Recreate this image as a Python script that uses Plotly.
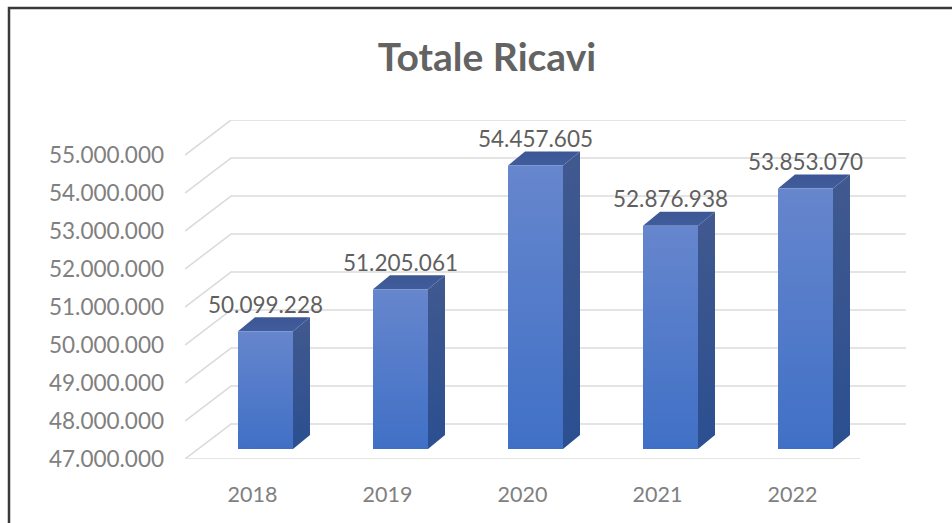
import plotly.graph_objects as go

# --- data ---
YEARS = ["2018", "2019", "2020", "2021", "2022"]
TOTALE_RICAVI = [50099228, 51205061, 54457605, 52876938, 53853070]
Y_TICKS = [47000000, 48000000, 49000000, 50000000, 51000000, 52000000, 53000000, 54000000, 55000000]
TITLE = "Totale Ricavi"

# --- canvas geometry (px) ---
W, H = 952, 523
LEFT, RIGHT_EDGE, TOP, BOTTOM = 185, 907, 120, 459
CAT_PX = 135.0          # width of one category on the front plane
PX_PER_UNIT = 38.0 / 1e6
DEPTH_X, DEPTH_Y = 46, 35     # px, oblique offset of the back wall
BAR_FRONT, BAR_BACK = (13, 10), (30, 24)   # px, oblique offset of bar faces
BAR_HALF = 27.5

X0 = -0.5
X1 = X0 + (RIGHT_EDGE - LEFT) / CAT_PX
Y0 = Y_TICKS[0]
Y1 = Y0 + (BOTTOM - TOP) / PX_PER_UNIT

ox = lambda px: px / CAT_PX            # px -> x units
oy = lambda px: px / PX_PER_UNIT       # px -> y units

GRID = "#dcdcdc"
AXIS_TEXT = "#808080"
LABEL_TEXT = "#5f5f5f"
FONT = "Lato, Carlito, sans-serif"

fig = go.Figure()

# --- walls ---
gx, gy = [], []
n = len(YEARS)
for t in Y_TICKS:
    gx += [X0, X0 + ox(DEPTH_X), X0 + ox(DEPTH_X) + n, None]
    gy += [t, t + oy(DEPTH_Y), t + oy(DEPTH_Y), None]
gx += [X0, X0 + n]
gy += [Y_TICKS[0], Y_TICKS[0]]
fig.add_trace(go.Scatter(x=gx, y=gy, mode="lines", line=dict(color=GRID, width=1.6),
                         hoverinfo="skip", showlegend=False))


def face(xs, ys, stops):
    fig.add_trace(go.Scatter(
        x=xs, y=ys, mode="lines", fill="toself", line=dict(width=0),
        fillgradient=dict(type="vertical", colorscale=stops),
        hoverinfo="skip", showlegend=False))


# --- bars ---
for i, v in enumerate(TOTALE_RICAVI):
    fx0 = i + ox(BAR_FRONT[0] - BAR_HALF)
    fx1 = i + ox(BAR_FRONT[0] + BAR_HALF)
    fb = Y0 + oy(BAR_FRONT[1])
    ft = v + oy(BAR_FRONT[1])
    ddx = ox(BAR_BACK[0] - BAR_FRONT[0])
    ddy = oy(BAR_BACK[1] - BAR_FRONT[1])
    # side
    face([fx1, fx1 + ddx, fx1 + ddx, fx1, fx1], [fb, fb + ddy, ft + ddy, ft, fb],
         [[0, "#2b4f90"], [1, "#41598f"]])
    # top
    face([fx0, fx0 + ddx, fx1 + ddx, fx1, fx0], [ft, ft + ddy, ft + ddy, ft, ft],
         [[0, "#415c9c"], [1, "#3d5795"]])
    # front
    face([fx0, fx1, fx1, fx0, fx0], [fb, fb, ft, ft, fb],
         [[0, "#4070c6"], [1, "#6686cd"]])

# --- data labels ---
fig.add_trace(go.Scatter(
    x=[i + ox(BAR_FRONT[0]) for i in range(n)],
    y=[v + oy(BAR_FRONT[1] + 24) for v in TOTALE_RICAVI],
    mode="text",
    text=[f"{v:,}".replace(",", ".") for v in TOTALE_RICAVI],
    textposition="middle center",
    textfont=dict(family=FONT, size=22.5, color=LABEL_TEXT),
    hoverinfo="skip", showlegend=False))

# --- frame (open on the right and bottom) ---
px = lambda p: (p - LEFT) / (RIGHT_EDGE - LEFT)
py = lambda p: (BOTTOM - p) / (BOTTOM - TOP)
fig.add_shape(type="path", xref="paper", yref="paper",
              path=f"M {px(9)} {py(523)} L {px(9)} {py(8)} L {px(952)} {py(8)}",
              line=dict(color="#3a3a3a", width=2.5))

fig.update_layout(
    width=W, height=H,
    margin=dict(l=LEFT, r=W - RIGHT_EDGE, t=TOP, b=H - BOTTOM, autoexpand=False),
    paper_bgcolor="white", plot_bgcolor="white",
    separators=",.",
    showlegend=False,
    title=dict(text=f"<b>{TITLE}</b>", x=487 / W, xanchor="center", xref="container",
               y=1 - 57 / H, yanchor="middle", yref="container",
               font=dict(family=FONT, size=39, color="#636363")),
    xaxis=dict(range=[X0, X1], tickmode="array", tickvals=list(range(n)), ticktext=YEARS,
               showgrid=False, zeroline=False, showline=False, ticks="",
               ticklabelstandoff=20,
               tickfont=dict(family=FONT, size=21.5, color=AXIS_TEXT)),
    yaxis=dict(range=[Y0, Y1], tickmode="array", tickvals=Y_TICKS, tickformat=",d",
               showgrid=False, zeroline=False, showline=False, ticks="",
               ticklabelstandoff=20,
               tickfont=dict(family=FONT, size=22.5, color=AXIS_TEXT)),
)

fig.write_html("out.html", config=dict(displayModeBar=False),
               post_script="document.body.style.margin='0';document.documentElement.style.overflow='hidden';")
